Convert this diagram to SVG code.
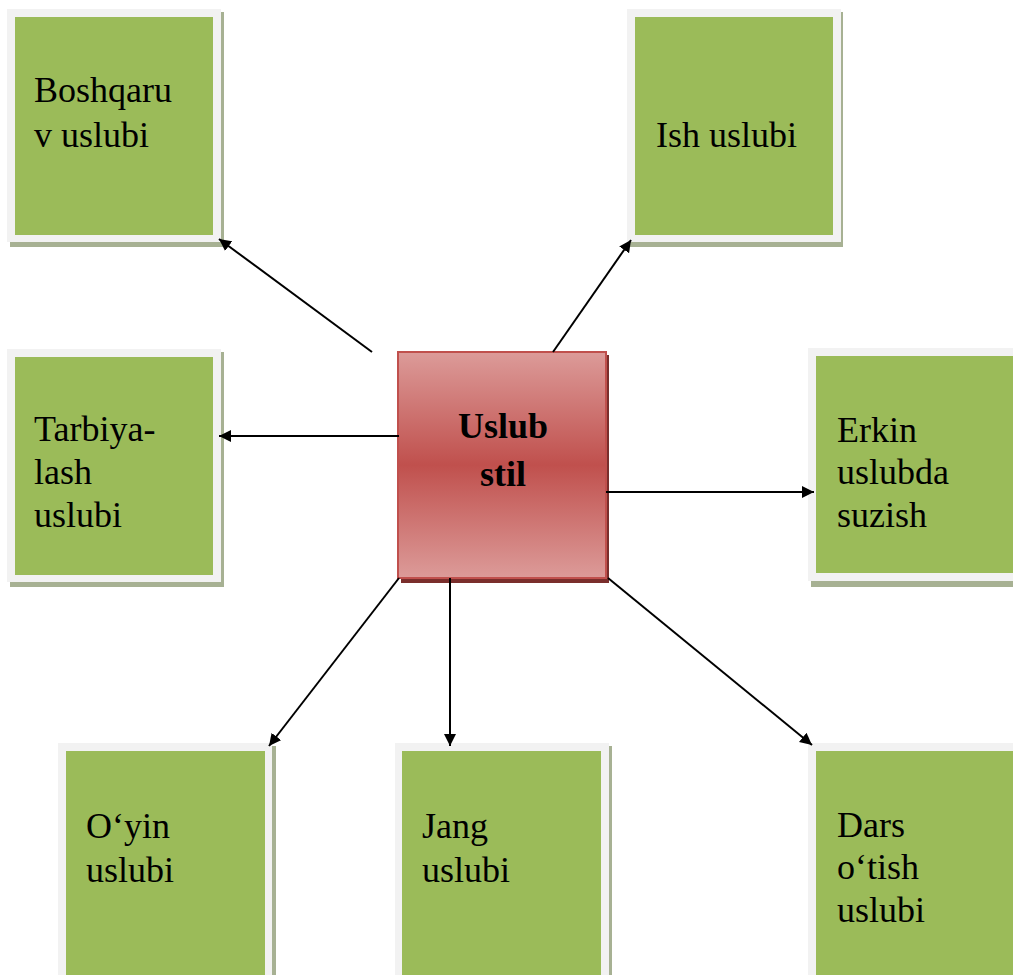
<svg xmlns="http://www.w3.org/2000/svg" width="1013" height="975" viewBox="0 0 1013 975">
<style>
.frame{fill:#f2f2f2}
.shadow{fill:#a7b193}
.green{fill:#9bbb59}
.t{font-family:"Liberation Serif","Times New Roman",serif;font-size:36px;fill:#000}
.tb{font-family:"Liberation Serif","Times New Roman",serif;font-size:36px;font-weight:bold;fill:#000;text-anchor:middle}
.conn line{stroke:#000;stroke-width:2;marker-end:url(#ah)}
</style>
<defs>
<marker id="ah" viewBox="0 0 10 10" refX="10" refY="5" markerWidth="6" markerHeight="6" orient="auto" markerUnits="strokeWidth">
<path d="M0,0 L10,5 L0,10 z" fill="#000"/>
</marker>
<linearGradient id="rg" x1="0" y1="0" x2="0" y2="1">
<stop offset="0" stop-color="#dc9b99"/>
<stop offset="0.5" stop-color="#c0504d"/>
<stop offset="1" stop-color="#dc9b99"/>
</linearGradient>
</defs>
<rect width="1013" height="975" fill="#fff"/>

<g id="boshqaruv">
<rect class="shadow" x="10" y="12" width="214" height="235"/>
<rect class="frame" x="7" y="9" width="214" height="233"/>
<rect class="green" x="15" y="17" width="198" height="218"/>
<text class="t" x="34" y="102">Boshqaru</text>
<text class="t" x="34" y="147">v uslubi</text>
</g>

<g id="ish">
<rect class="shadow" x="630" y="12" width="213" height="235"/>
<rect class="frame" x="627" y="9" width="214" height="233"/>
<rect class="green" x="635" y="17" width="198" height="218"/>
<text class="t" x="656" y="147">Ish uslubi</text>
</g>

<g id="tarbiya">
<rect class="shadow" x="10" y="352" width="214" height="235"/>
<rect class="frame" x="7" y="349" width="214" height="233"/>
<rect class="green" x="15" y="357" width="198" height="218"/>
<text class="t" x="34" y="441">Tarbiya-</text>
<text class="t" x="34" y="484">lash</text>
<text class="t" x="34" y="527">uslubi</text>
</g>

<g id="erkin">
<rect class="shadow" x="811" y="351" width="214" height="236"/>
<rect class="frame" x="808" y="348" width="214" height="233"/>
<rect class="green" x="816" y="356" width="198" height="217"/>
<text class="t" x="837" y="442">Erkin</text>
<text class="t" x="837" y="484">uslubda</text>
<text class="t" x="837" y="527">suzish</text>
</g>

<g id="center">
<rect x="401" y="355" width="208" height="228" fill="#7a2e2c"/>
<rect x="398" y="352" width="208" height="226" fill="url(#rg)" stroke="#c0504d" stroke-width="2"/>
<text class="tb" x="503" y="438">Uslub</text>
<text class="tb" x="503" y="486">stil</text>
</g>

<g id="oyin">
<rect class="shadow" x="61" y="746" width="215" height="240"/>
<rect class="frame" x="58" y="743" width="214" height="240"/>
<rect class="green" x="66" y="751" width="199" height="230"/>
<text class="t" x="86" y="838">O‘yin</text>
<text class="t" x="86" y="882">uslubi</text>
</g>

<g id="jang">
<rect class="shadow" x="398" y="746" width="214" height="240"/>
<rect class="frame" x="395" y="743" width="214" height="240"/>
<rect class="green" x="402" y="751" width="199" height="230"/>
<text class="t" x="422" y="838">Jang</text>
<text class="t" x="422" y="882">uslubi</text>
</g>

<g id="dars">
<rect class="shadow" x="811" y="746" width="214" height="240"/>
<rect class="frame" x="808" y="743" width="214" height="240"/>
<rect class="green" x="816" y="751" width="199" height="230"/>
<text class="t" x="837" y="837">Dars</text>
<text class="t" x="837" y="879">o‘tish</text>
<text class="t" x="837" y="922">uslubi</text>
</g>

<g id="connectors" class="conn">
<line x1="372" y1="352" x2="219" y2="239"/>
<line x1="553" y1="352" x2="631" y2="240"/>
<line x1="399" y1="436" x2="219" y2="436"/>
<line x1="606" y1="492" x2="814" y2="492"/>
<line x1="399" y1="578" x2="269" y2="746"/>
<line x1="450" y1="578" x2="450" y2="746"/>
<line x1="608" y1="578" x2="812" y2="745"/>
</g>
</svg>
